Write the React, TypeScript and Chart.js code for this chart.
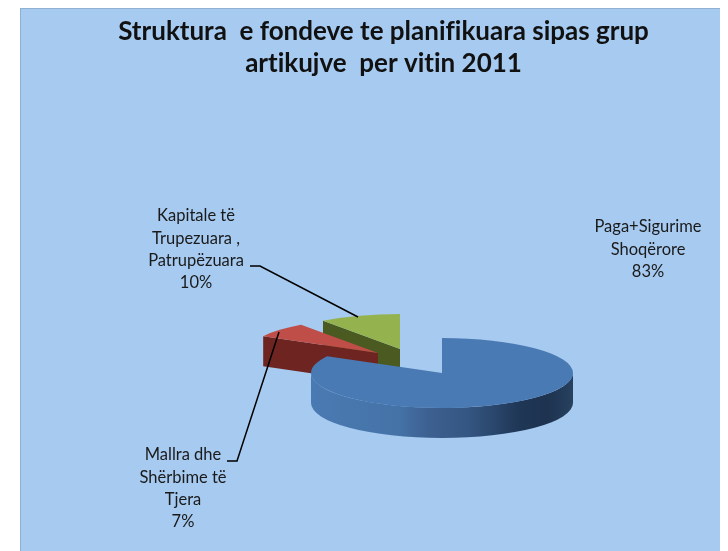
import React, { useEffect, useRef } from "react";
import { Chart, registerables } from "chart.js";

Chart.register(...registerables);

const categories = ["Paga+Sigurime Shoqërore", "Mallra dhe Shërbime të Tjera", "Kapitale të Trupezuara , Patrupëzuara"];
const values = [83, 7, 10];
const labelLines = [
  ["Paga+Sigurime", "Shoqërore"],
  ["Mallra dhe", "Shërbime të", "Tjera"],
  ["Kapitale të", "Trupezuara ,", "Patrupëzuara"],
];
const titleLines = ["Struktura  e fondeve te planifikuara sipas grup", "artikujve  per vitin 2011"];
const topColors = ["#4a7ab3", "#bf4d48", "#94b34e"];
const faceColors = ["#3c6090", "#6e2420", "#4a5a20"];

// layout and style constants
const PANEL = { x: 20, y: 8, w: 700, h: 543, fill: "#a6caf0", edge: "#8fb0cf" };
const CENTER = { x: 442, y: 373 };
const RADIUS = 131;
const SQUASH = 0.267;
const DEPTH = 30;
const EXPLODE = [{ x: 0, y: 0 }, { x: -64, y: -20 }, { x: -42, y: -24 }];
const LABEL_POS = [{ x: 648, y: 227 }, { x: 183, y: 455 }, { x: 196, y: 216 }];
const LABEL_STEP = 22.3;
const LEADERS: (number[][] | null)[] = [
  null,
  [[227, 461], [237, 461], [279, 332]],
  [[250, 266], [260, 266], [358, 317]],
];
const BLUE_WALL: [number, string][] = [
  [0, "#4a7ab2"], [0.33, "#4573a8"], [0.45, "#3c6090"], [0.6, "#345682"],
  [0.8, "#1f3655"], [0.9, "#1d3350"], [1, "#27415f"],
];

const pie3d = {
  id: "pie3d",
  beforeDraw(chart: any) {
    const { ctx } = chart;
    ctx.textRendering = "optimizeSpeed";
    ctx.save();
    ctx.fillStyle = PANEL.fill;
    ctx.fillRect(PANEL.x, PANEL.y, PANEL.w, PANEL.h);
    ctx.fillStyle = PANEL.edge;
    ctx.fillRect(PANEL.x, PANEL.y, PANEL.w, 1);
    ctx.fillRect(PANEL.x, PANEL.y, 1, PANEL.h);
    ctx.restore();
  },
  beforeDatasetsDraw(chart: any) {
    const { ctx } = chart;
    const arcs = chart.getDatasetMeta(0).data;
    ctx.save();
    ctx.filter = "blur(0.7px)";
    for (const i of [2, 1, 0]) {
      const el = arcs[i];
      const { startAngle, endAngle, outerRadius, x, y } = el.getProps(["startAngle", "endAngle", "outerRadius", "x", "y"]);
      const ax = CENTER.x + EXPLODE[i].x;
      const ay = CENTER.y + EXPLODE[i].y;
      const rx = outerRadius;
      const ry = outerRadius * SQUASH;

      // radial cut faces that look toward the viewer
      for (const [angle, normal] of [[startAngle, startAngle - Math.PI / 2], [endAngle, endAngle + Math.PI / 2]]) {
        if (Math.sin(normal) > 1e-3) {
          const tx = ax + Math.cos(angle) * rx;
          const ty = ay + Math.sin(angle) * ry;
          ctx.beginPath();
          ctx.moveTo(ax, ay);
          ctx.lineTo(tx, ty);
          ctx.lineTo(tx, ty + DEPTH);
          ctx.lineTo(ax, ay + DEPTH);
          ctx.closePath();
          ctx.fillStyle = faceColors[i];
          ctx.fill();
        }
      }

      // outer wall on the front half of the rim
      const from = Math.max(startAngle, 0);
      const to = Math.min(endAngle, Math.PI);
      if (to > from) {
        const grad = ctx.createLinearGradient(ax - rx, 0, ax + rx, 0);
        if (i === 0) BLUE_WALL.forEach(([s, c]) => grad.addColorStop(s, c));
        else { grad.addColorStop(0, faceColors[i]); grad.addColorStop(1, faceColors[i]); }
        ctx.beginPath();
        ctx.ellipse(ax, ay, rx, ry, 0, from, to);
        ctx.ellipse(ax, ay + DEPTH, rx, ry, 0, to, from, true);
        ctx.closePath();
        ctx.fillStyle = grad;
        ctx.fill();
      }

      // top face drawn by the library's own arc element
      ctx.save();
      ctx.translate(ax, ay);
      ctx.scale(1, SQUASH);
      ctx.translate(-x, -y);
      el.draw(ctx);
      ctx.restore();
    }
    ctx.restore();
    return false;
  },
  afterDraw(chart: any) {
    const { ctx } = chart;
    ctx.save();
    ctx.strokeStyle = "#000";
    ctx.lineWidth = 1.5;
    LEADERS.forEach((pts) => {
      if (!pts) return;
      ctx.beginPath();
      pts.forEach(([px, py], k) => (k ? ctx.lineTo(px, py) : ctx.moveTo(px, py)));
      ctx.stroke();
    });
    ctx.fillStyle = "#1a1a1a";
    ctx.font = "16.5px Lato";
    ctx.textAlign = "center";
    ctx.textBaseline = "middle";
    labelLines.forEach((lines, i) => {
      const all = [...lines, `${values[i]}%`];
      all.forEach((t, k) => ctx.fillText(t, LABEL_POS[i].x, LABEL_POS[i].y + k * LABEL_STEP));
    });
    ctx.restore();
  },
};

export default function App() {
  const ref = useRef<HTMLCanvasElement>(null);
  useEffect(() => {
    document.body.style.margin = "0";
    document.body.style.background = "#fff";
    const chart = new Chart(ref.current as HTMLCanvasElement, {
      type: "pie",
      data: {
        labels: categories,
        datasets: [{ data: values, backgroundColor: topColors, borderWidth: 0 }],
      },
      options: {
        responsive: false,
        animation: false,
        radius: RADIUS,
        layout: { padding: { left: 39 } },
        plugins: {
          legend: { display: false },
          tooltip: { enabled: false },
          title: {
            display: true,
            text: titleLines,
            color: "#111",
            font: { family: "Lato", size: 26, weight: "bold", lineHeight: "32px" },
            padding: { top: 16, bottom: 10 },
          },
        },
      } as any,
      plugins: [pie3d],
    });
    return () => chart.destroy();
  }, []);
  return (
    <div style={{ position: "absolute", left: 0, top: 0, width: 728, height: 551 }}>
      <canvas ref={ref} width={728} height={551} style={{ display: "block" }} />
    </div>
  );
}
